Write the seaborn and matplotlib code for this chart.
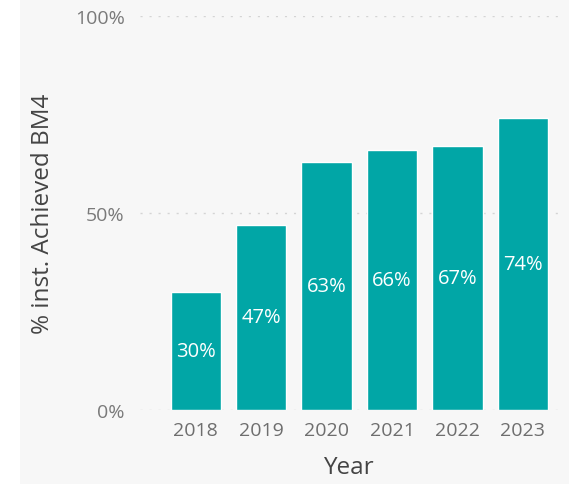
import matplotlib
matplotlib.use("Agg")
import matplotlib.pyplot as plt
import seaborn as sns
import pandas as pd
from matplotlib.patches import Rectangle

years = ["2018", "2019", "2020", "2021", "2022", "2023"]
achieved_pct = [30, 47, 63, 66, 67, 74]
y_ticks = [0, 50, 100]
y_tick_labels = ["0%", "50%", "100%"]

df = pd.DataFrame({"Year": years, "Achieved": achieved_pct})

sns.set_theme(style="white")
plt.rcParams["font.family"] = ["Open Sans", "DejaVu Sans"]

W, H, DPI = 569, 485, 100
fig = plt.figure(figsize=(W / DPI, H / DPI), dpi=DPI, facecolor="white")

# light panel behind the visual
fig.patches.append(Rectangle((20 / W, 0), 1 - 20 / W, 1, transform=fig.transFigure,
                             facecolor="#f7f7f7", edgecolor="none", zorder=-10))

left, right, top, bottom = 140, 562, 17, 411
ax = fig.add_axes([left / W, 1 - bottom / H, (right - left) / W, (bottom - top) / H])
ax.set_facecolor("none")

teal = "#01a6a6"
sns.barplot(data=df, x="Year", y="Achieved", color=teal, width=0.77,
            saturation=1, ax=ax, zorder=2)

ax.set_ylim(0, 100)
ax.set_xlim(-0.854, 5.6)

for y in y_ticks:
    ax.axhline(y, color="#d4d4d4", lw=1.0, ls=(0, (1.5, 5)), zorder=1)

for i, v in enumerate(achieved_pct):
    ax.text(i, v / 2, f"{v}%", ha="center", va="center", color="white",
            fontsize=14.5, zorder=3)

ax.set_yticks(y_ticks)
ax.set_yticklabels(y_tick_labels)
ax.tick_params(axis="y", length=0, pad=11, labelsize=14, labelcolor="#7a7a7a")
ax.tick_params(axis="x", length=0, pad=8, labelsize=14, labelcolor="#6e6e6e")

ax.set_xlabel("Year", fontsize=17.5, color="#444444", va="center")
ax.set_ylabel("% inst. Achieved BM4", fontsize=17.5, color="#444444", va="center")
ax.xaxis.set_label_coords((348 - left) / (right - left), (bottom - 468) / (bottom - top))
ax.yaxis.set_label_coords((43 - left) / (right - left), (bottom - 214) / (bottom - top))

for s in ax.spines.values():
    s.set_visible(False)

fig.savefig("out.png", dpi=DPI, facecolor="white")
